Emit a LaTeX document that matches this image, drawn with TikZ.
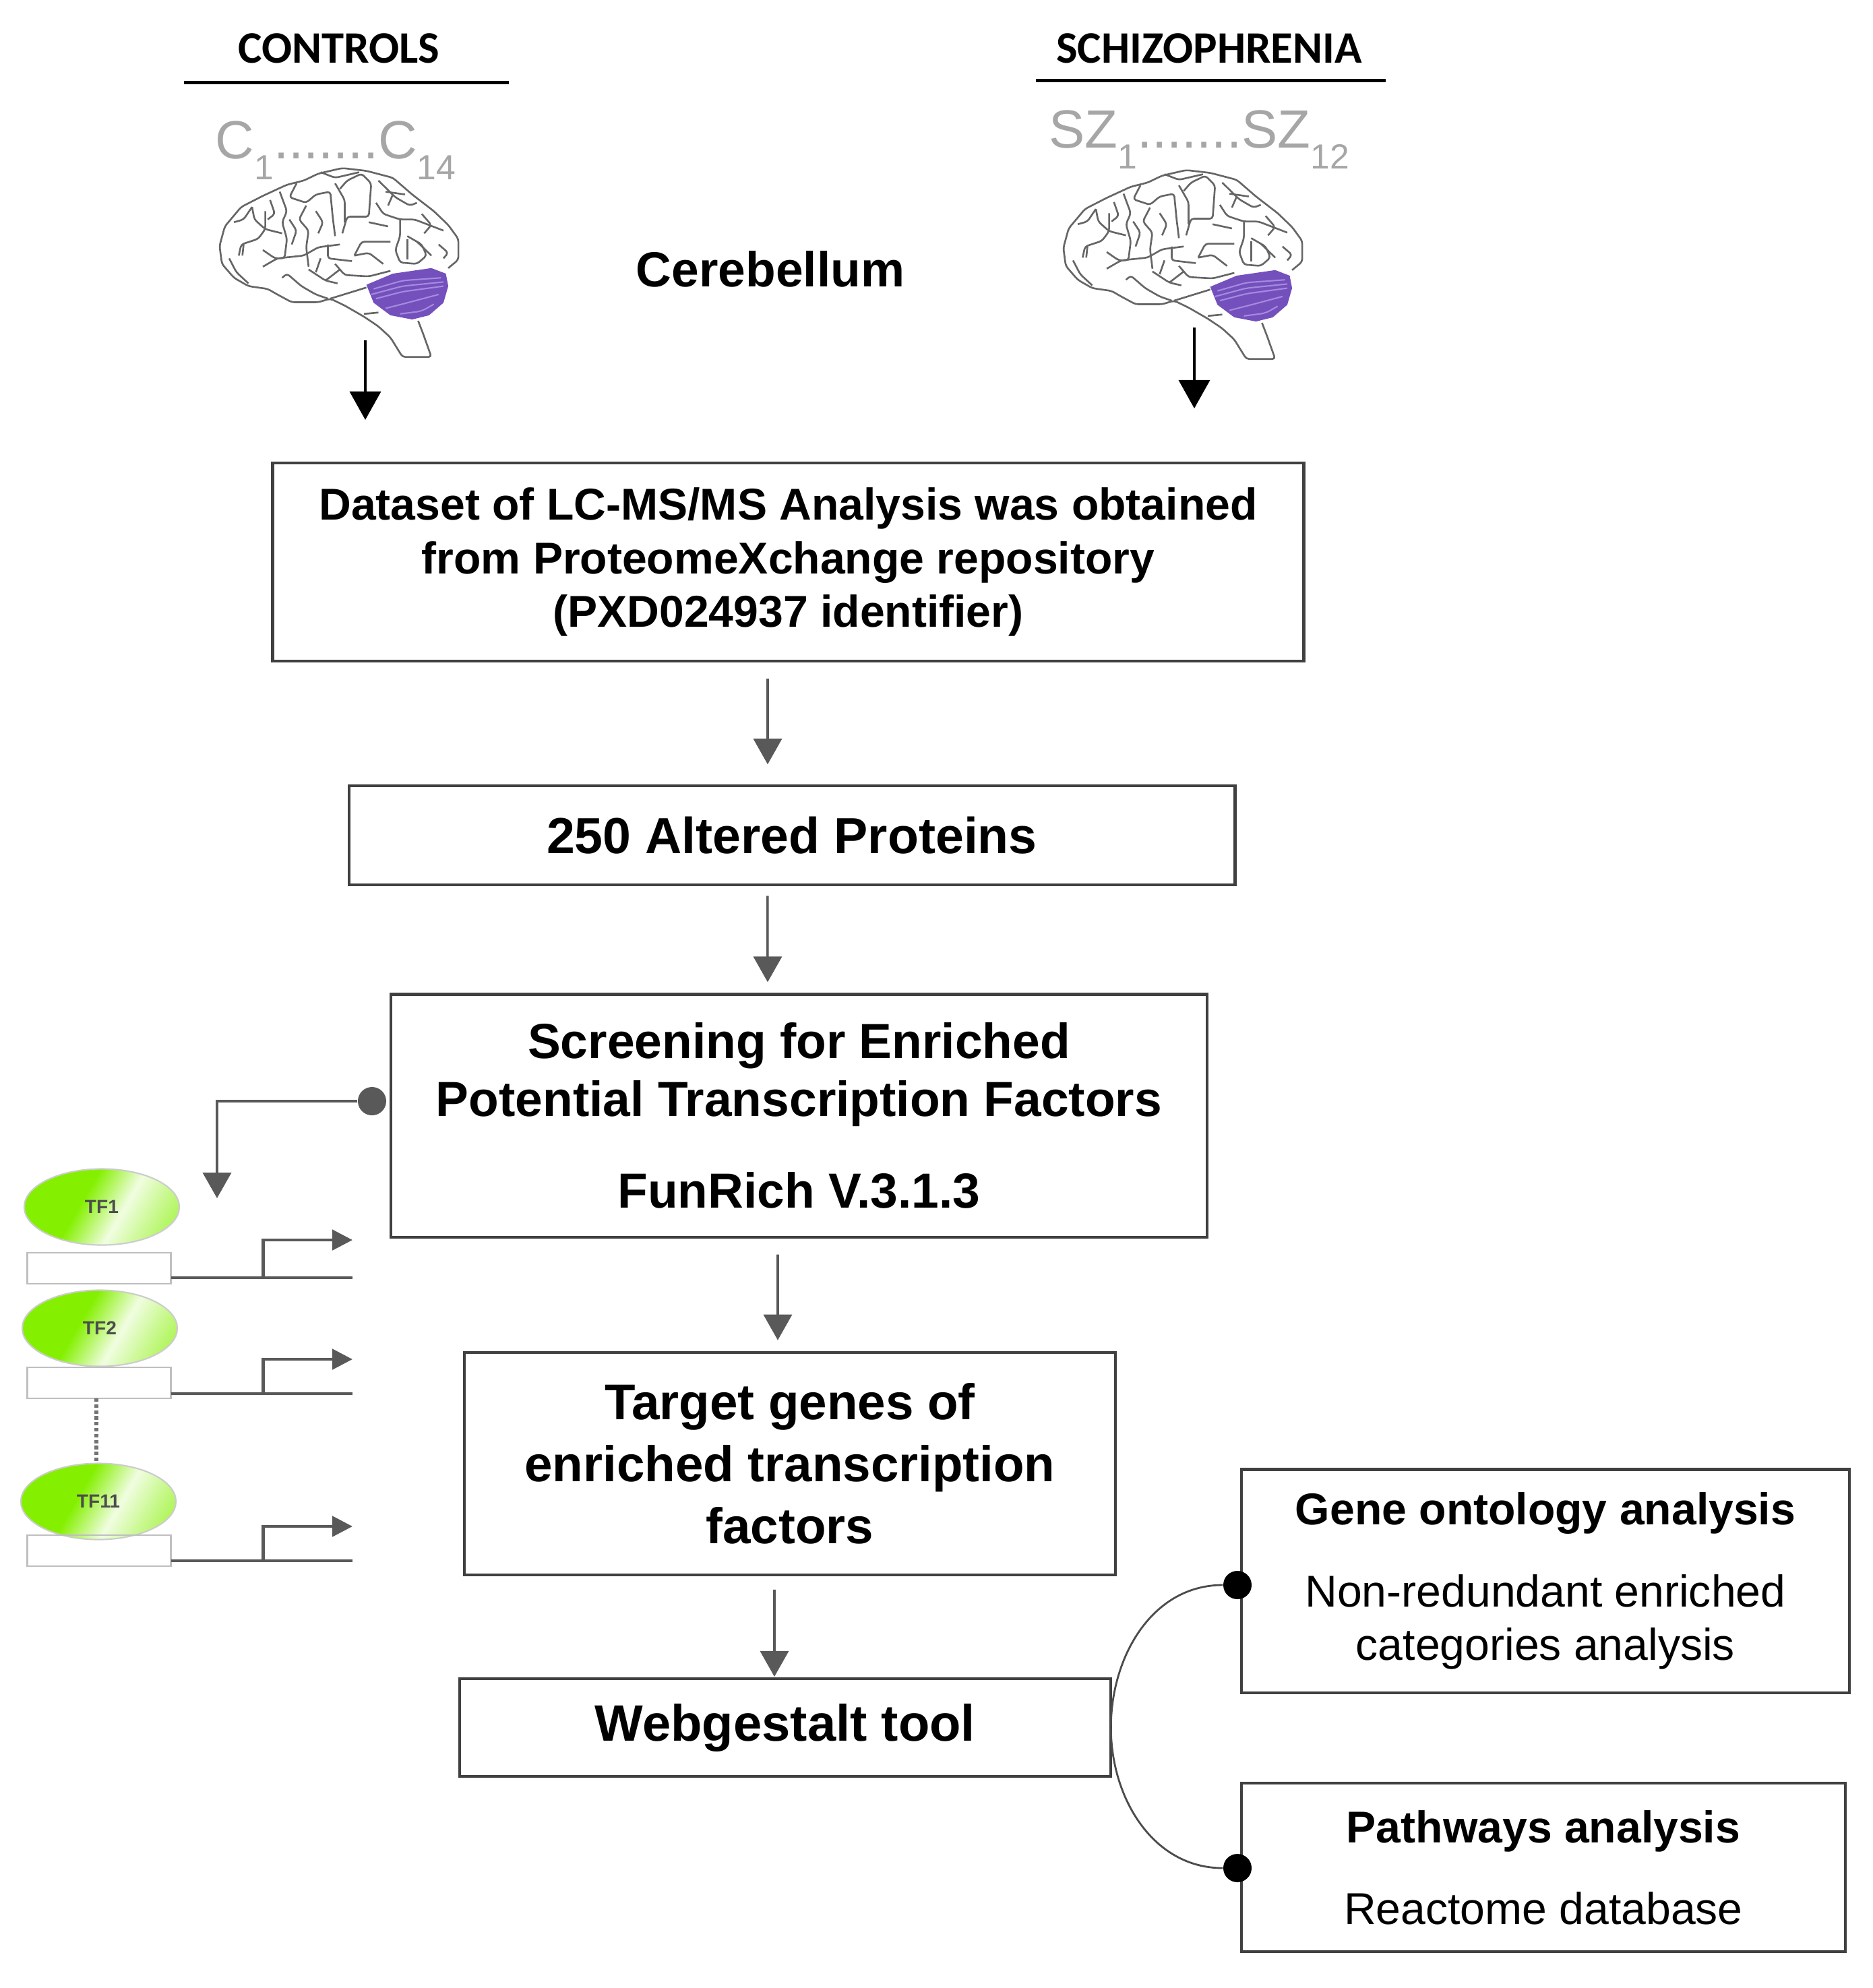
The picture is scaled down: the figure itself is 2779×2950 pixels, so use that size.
\documentclass[tikz,border=0pt]{standalone}
\usepackage{fontspec}
\setmainfont{Liberation Sans}
\newfontfamily\headfont{Carlito}
\usetikzlibrary{arrows.meta,positioning,shapes.geometric,calc}

\definecolor{boxgray}{HTML}{404040}
\definecolor{arrowgray}{HTML}{595959}
\definecolor{labelgray}{HTML}{A6A6A6}
\definecolor{tfgreen}{HTML}{84F000}
\definecolor{cerebpurple}{HTML}{7450BC}
\definecolor{cereblight}{HTML}{A48BE0}

\newcommand{\lowsub}[1]{\raisebox{-0.75ex}{\fontsize{14.7}{14.7}\selectfont #1}}

\pgfdeclarehorizontalshading{tfshade}{100bp}{
  color(0bp)=(tfgreen); color(42bp)=(tfgreen); color(58bp)=(tfgreen!12);
  color(70bp)=(tfgreen!45); color(80bp)=(tfgreen!70); color(100bp)=(tfgreen!70)
}

\tikzset{
  pics/brain/.style={code={
    \begin{scope}[x=0.00357cm,y=-0.00412cm,line join=round]
    % cerebellum
    \fill[cerebpurple] (850,1025) -- (960,985) -- (1120,965) -- (1180,985) -- (1190,1030)
      -- (1170,1090) -- (1110,1135) -- (1040,1150) -- (950,1135) -- (880,1090) -- cycle;
    \draw[cereblight,line width=0.6pt,rounded corners=2pt] (880,1040) -- (1000,1010) -- (1160,1000);
    \draw[cereblight,line width=0.6pt,rounded corners=2pt] (870,1060) -- (1000,1030) -- (1170,1015);
    \draw[cereblight,line width=0.6pt,rounded corners=2pt] (890,1075) -- (1000,1050) -- (1170,1030);
    \draw[cereblight,line width=0.6pt,rounded corners=2pt] (930,1110) -- (1020,1090) -- (1150,1060);
    \draw[cereblight,line width=0.6pt,rounded corners=2pt] (990,1130) -- (1080,1120) -- (1130,1095);
    % outline
    \draw[sulcus] (1190,965) -- (1232,935) -- (1232,860) -- (1190,810) -- (1130,760) -- (1040,700)
      -- (960,640) -- (850,615) -- (750,605) -- (650,625) -- (590,650) -- (520,665) -- (420,705)
      -- (330,745) -- (262,815) -- (240,885) -- (250,950) -- (300,1000) -- (360,1030) -- (440,1040)
      -- (480,1060) -- (540,1088) -- (650,1088) -- (700,1075) -- (760,1100) -- (840,1140)
      -- (900,1175) -- (950,1215) -- (1000,1285) -- (1120,1285) -- (1085,1200) -- (1065,1155);
    \draw[sulcus] (700,1075) -- (850,1035);
    \draw[sulcus] (840,1130) -- (900,1125);
    % sulci
    \draw[sulcus] (375,745) -- (385,790) -- (430,825) -- (500,840);
    \draw[sulcus] (430,760) -- (430,825) -- (400,860) -- (330,880) -- (320,920);
    \draw[sulcus] (490,690) -- (520,760) -- (500,800) -- (520,860) -- (510,930) -- (470,930) -- (420,900);
    \draw[sulcus] (420,960) -- (480,930) -- (590,920) -- (650,890) -- (740,880);
    \draw[sulcus] (560,660) -- (530,710) -- (600,730) -- (640,700) -- (700,690) -- (710,780) -- (720,850);
    \draw[sulcus] (600,740) -- (570,790) -- (610,830) -- (600,890) -- (610,960);
    \draw[sulcus] (660,620) -- (720,640) -- (820,620);
    \draw[sulcus] (740,680) -- (770,650) -- (830,625) -- (870,660) -- (860,780) -- (770,780) -- (750,840);
    \draw[sulcus] (720,660) -- (760,720) -- (760,800);
    \draw[sulcus] (900,650) -- (970,710) -- (1030,740) -- (1060,730);
    \draw[sulcus] (890,730) -- (920,770) -- (990,790) -- (1050,790) -- (1170,830);
    \draw[sulcus] (860,800) -- (940,815);
    \draw[sulcus] (990,790) -- (990,850) -- (970,900) -- (990,945) -- (1060,950) -- (1100,920) -- (1080,880) -- (1020,850);
    \draw[sulcus] (1020,860) -- (1020,935);
    \draw[sulcus] (1060,870) -- (1120,920);
    \draw[sulcus] (800,920) -- (830,870) -- (950,870);
    \draw[sulcus] (800,920) -- (860,910) -- (920,950);
    \draw[sulcus] (1150,880) -- (1190,910) -- (1170,930);
    \draw[sulcus] (720,950) -- (760,990) -- (860,995) -- (950,975);
    \draw[sulcus] (690,880) -- (690,930) -- (790,940);
    \draw[sulcus] (610,970) -- (680,1010) -- (730,1020);
    \draw[sulcus] (680,1010) -- (740,970);
    \draw[sulcus] (500,1000) -- (520,985) -- (580,1030) -- (640,1060) -- (690,1075);
    \draw[sulcus] (280,930) -- (310,980) -- (360,1020);
    \draw[sulcus] (340,880) -- (335,920);
    \draw[sulcus] (1010,700) -- (930,690);
    \draw[sulcus] (300,800) -- (340,790) -- (375,745);
    \draw[sulcus] (450,720) -- (470,770) -- (440,790);
    \draw[sulcus] (640,760) -- (670,800) -- (650,840);
    \draw[sulcus] (1080,770) -- (1120,810) -- (1090,840);
    \draw[sulcus] (960,700) -- (940,740);
    \draw[sulcus] (540,880) -- (560,830) -- (530,790);
    \draw[sulcus] (660,930) -- (640,980);
    \end{scope}
  }}
}

\begin{document}
\begin{tikzpicture}[
  x=0.01cm, y=-0.01cm,
  sulcus/.style={draw=black!60, line width=0.75pt, rounded corners=1.2pt},
  flowbox/.style={
    draw=boxgray, line width=1.2pt, align=center, inner sep=0pt, outer sep=0pt,
    font=\fontsize{18.8}{22.5}\selectfont\bfseries
  },
  subbox/.style={flowbox, font=\fontsize{18.8}{22.5}\selectfont},
  grouphead/.style={font=\headfont\fontsize{19}{19}\selectfont\bfseries},
  grouprule/.style={line width=1.4pt, black},
  samplelabel/.style={text=labelgray, font=\fontsize{22.7}{22.7}\selectfont, inner sep=0pt},
  arrow/.style={-{Triangle[length=0.38cm,width=0.42cm]}, arrowgray, line width=1pt},
  topcarrow/.style={-{Triangle[length=0.42cm,width=0.46cm]}, black, line width=1pt},
  tfoval/.style={
    ellipse, draw=black!20, line width=0.6pt, minimum width=2.3cm, minimum height=1.13cm, inner sep=0pt,
    shading=tfshade, shading angle=-30,
    font=\fontsize{8}{8}\selectfont\bfseries, text=black!70
  },
  sitebox/.style={draw=black!25, line width=0.8pt, minimum width=2.13cm, minimum height=0.46cm, inner sep=0pt, outer sep=0pt},
  geneline/.style={arrowgray, line width=1.2pt},
  startarrow/.style={-{Triangle[length=0.3cm,width=0.3cm]}, arrowgray, line width=1.4pt},
  blackdot/.style={circle, fill=black, minimum size=0.42cm, inner sep=0pt},
  graydot/.style={circle, fill=arrowgray, minimum size=0.42cm, inner sep=0pt}
]
\useasboundingbox (0,0) rectangle (2779,2950);

% headers
\node[grouphead] (controls) at (503,72) {CONTROLS};
\node[grouphead] (schizo) at (1794,72) {SCHIZOPHRENIA};
\draw[grouprule] ([xshift=-2.30cm,yshift=-0.5cm]controls.center) -- ([xshift=2.52cm,yshift=-0.5cm]controls.center);
\draw[grouprule] ([xshift=-2.57cm,yshift=-0.47cm]schizo.center) -- ([xshift=2.62cm,yshift=-0.47cm]schizo.center);

\node[samplelabel] (csamples) at (498,223) {C\lowsub{1}.......C\lowsub{14}};
\node[samplelabel] (szsamples) at (1779,207) {SZ\lowsub{1}.......SZ\lowsub{12}};

% brains
\pic (cbrain) at (240,0) {brain};
\pic (szbrain) at (1492,3) {brain};

\node[font=\fontsize{20.8}{20.8}\selectfont\bfseries, inner sep=0pt] (cereb) at (1143,399) {Cerebellum};

% main column
\node[flowbox, minimum width=15.29cm, minimum height=2.94cm] (dataset) at (1169.5,834)
  {Dataset of LC-MS/MS Analysis was obtained\\from ProteomeXchange repository\\(PXD024937 identifier)};
\node[flowbox, font=\fontsize{21.4}{25}\selectfont\bfseries, minimum width=13.14cm, minimum height=1.47cm,
  below=1.85cm of dataset, xshift=0.055cm] (altered) {250 Altered Proteins};
\node[flowbox, font=\fontsize{20.8}{24.5}\selectfont\bfseries, minimum width=12.11cm, minimum height=3.6cm,
  below=1.62cm of altered, xshift=0.105cm] (screen)
  {Screening for Enriched\\Potential Transcription Factors\\[14pt]FunRich V.3.1.3};
\node[flowbox, font=\fontsize{21.2}{26.2}\selectfont\bfseries, minimum width=9.66cm, minimum height=3.3cm,
  below=1.71cm of screen, xshift=-0.135cm] (target)
  {Target genes of\\enriched transcription\\factors};
\node[flowbox, font=\fontsize{21.6}{26}\selectfont\bfseries, minimum width=9.66cm, minimum height=1.45cm,
  below=1.54cm of target, xshift=-0.07cm] (webgestalt) {Webgestalt tool};

% side boxes
\node[subbox, minimum width=9.02cm, minimum height=3.31cm] (ontology) at (2293,2346)
  {\textbf{Gene ontology analysis}\\[12pt]Non-redundant enriched\\categories analysis};
\node[subbox, minimum width=8.96cm, minimum height=2.5cm] (pathways) at (2290,2771)
  {\textbf{Pathways analysis}\\[12pt]Reactome database};

\node[blackdot] (ontodot) at (1836,2352) {};
\node[blackdot] (pathdot) at (1836,2772) {};
\draw[black!70, line width=0.8pt] (ontodot) to[out=180,in=90] (webgestalt.east);
\draw[black!70, line width=0.8pt] (webgestalt.east) to[out=-90,in=180] (pathdot);

% arrows down the column
\coordinate (cstart) at (542,505);
\coordinate (cend) at (542,623);
\coordinate (szstart) at (1772,486);
\coordinate (szend) at (1772,606);
\draw[topcarrow] (cstart) -- (cend);
\draw[topcarrow] (szstart) -- (szend);
\draw[arrow, shorten <=0.26cm, shorten >=0.32cm] ([xshift=-0.305cm]dataset.south) -- ([xshift=-0.36cm]altered.north);
\draw[arrow, shorten <=0.16cm, shorten >=0.18cm] ([xshift=-0.36cm]altered.south) -- ([xshift=-0.465cm]screen.north);
\draw[arrow, shorten <=0.26cm, shorten >=0.18cm] ([xshift=-0.315cm]screen.south) -- ([xshift=-0.18cm]target.north);
\draw[arrow, shorten <=0.22cm, shorten >=0.03cm] ([xshift=-0.23cm]target.south) -- ([xshift=-0.16cm]webgestalt.north);

% transcription factors
\node[graydot] (screendot) at (552,1634) {};
\coordinate (tfin) at (322,1778);
\draw[arrow, line width=1.2pt] (screendot) -| (tfin);

\node[tfoval] (tfone) at (151,1791) {TF1};
\node[sitebox] (siteone) at (147,1882) {};
\coordinate (endone) at (523,1840);
\draw[geneline] ([yshift=0.09cm]siteone.south east) -- coordinate[pos=0.51] (startone) ++(269,0);
\draw[startarrow] (startone) |- (endone);

\node[tfoval] (tftwo) at (148,1971) {TF2};
\node[sitebox] (sitetwo) at (147,2052) {};
\coordinate (endtwo) at (523,2017);
\draw[geneline] ([yshift=0.07cm]sitetwo.south east) -- coordinate[pos=0.51] (starttwo) ++(269,0);
\draw[startarrow] (starttwo) |- (endtwo);

\node[tfoval] (tfeleven) at (146,2228) {TF11};
\node[sitebox] (siteeleven) at (147,2301) {};
\coordinate (endeleven) at (523,2265);
\draw[geneline] ([yshift=0.08cm]siteeleven.south east) -- coordinate[pos=0.51] (starteleven) ++(269,0);
\draw[startarrow] (starteleven) |- (endeleven);

\draw[black!55, line width=1.5pt, densely dotted] ([xshift=-0.04cm]sitetwo.south) -- ([xshift=-0.03cm]tfeleven.north);

\end{tikzpicture}
\end{document}
